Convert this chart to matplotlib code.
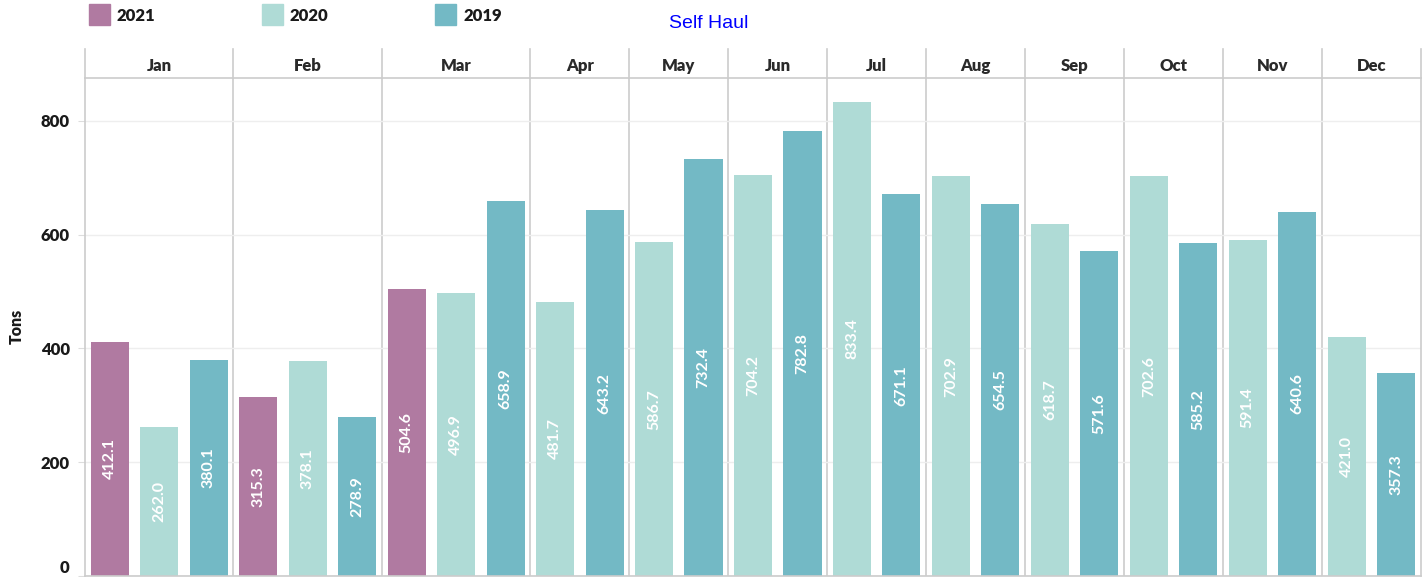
import numpy as np
import matplotlib
matplotlib.use("Agg")
import matplotlib.pyplot as plt
from matplotlib.patches import Rectangle

# data (tons)
months = ['Jan', 'Feb', 'Mar', 'Apr', 'May', 'Jun',
          'Jul', 'Aug', 'Sep', 'Oct', 'Nov', 'Dec']
years = ['2021', '2020', '2019']
v2021 = [412.1, 315.3, 504.6]  # only Jan-Mar
v2020 = [262.0, 378.1, 496.9, 481.7, 586.7, 704.2,
         833.4, 702.9, 618.7, 702.6, 591.4, 421.0]
v2019 = [380.1, 278.9, 658.9, 643.2, 732.4, 782.8,
         671.1, 654.5, 571.6, 585.2, 640.6, 357.3]
yticks = [0, 200, 400, 600, 800]

colors = {'2021': '#B07AA1', '2020': '#AFDBD6', '2019': '#73B9C5'}

W, H = 1427, 577
fig = plt.figure(figsize=(W / 100, H / 100), dpi=100)
plt.rcParams['font.family'] = ['Lato', 'DejaVu Sans']

def fx(px):
    return px / W

def fy(py):
    return 1 - py / H

# build bar list: month by month, year by year
xs, hs, cs, bounds, centers = [], [], [], [], []
pos = 0
for i, m in enumerate(months):
    start = pos
    series = []
    if i < len(v2021):
        series.append(('2021', v2021[i]))
    series.append(('2020', v2020[i]))
    series.append(('2019', v2019[i]))
    for yr, v in series:
        xs.append(pos)
        hs.append(v)
        cs.append(colors[yr])
        pos += 1
    bounds.append(pos - 0.5)
    centers.append((start + pos - 1) / 2)

left, right = 85, 1421
top, bottom = 78, 576
ax = fig.add_axes([fx(left), fy(bottom), fx(right - left), (bottom - top) / H])
ax.bar(xs, hs, width=0.77, color=cs, zorder=2)
ax.set_xlim(-0.5, pos - 0.5)
ymax = 875.6
ax.set_ylim(0, ymax)

for x, h in zip(xs, hs):
    ax.text(x, h / 2, f'{h:.1f}', rotation=90, ha='center', va='center',
            color='white', fontsize=11.5, fontweight='bold', zorder=3)

for b in bounds[:-1]:
    ax.axvline(b, color='#cccccc', lw=1.2, zorder=1)

ax.set_yticks(yticks)
ax.set_yticklabels([str(t) for t in yticks])
ax.yaxis.grid(True, color='#eeeeee', lw=1, zorder=0)
ax.set_xticks([])
ax.tick_params(axis='y', length=5, color='#dddddd', pad=6,
               labelsize=12, labelcolor='#1a1a1a')
for lab in ax.get_yticklabels():
    lab.set_fontweight('heavy')
ax.get_yticklabels()[0].set_verticalalignment('bottom')
ax.spines['top'].set_visible(False)
for s in ['left', 'right', 'bottom']:
    ax.spines[s].set_color('#cccccc')
    ax.spines[s].set_linewidth(1.2)

# header strip with month names
hdr_top = 49
hax = fig.add_axes([fx(left), fy(top), fx(right - left), (top - hdr_top) / H])
hax.set_xlim(-0.5, pos - 0.5)
hax.set_ylim(0, 1)
hax.axis('off')
for b in [-0.5] + bounds:
    hax.plot([b, b], [0, 1], color='#cccccc', lw=1.2, clip_on=False)
hax.plot([-0.5, pos - 0.5], [0, 0], color='#cccccc', lw=1.2, clip_on=False)
for c, m in zip(centers, months):
    hax.text(c, 0.42, m, ha='center', va='center', fontsize=12,
             fontweight='heavy', color='#2a2a2a')

# legend
for yr, sx in zip(years, [89, 262, 435]):
    fig.add_artist(Rectangle((fx(sx), fy(25)), fx(21), 21 / H,
                             transform=fig.transFigure, color=colors[yr]))
    fig.text(fx(sx + 28), fy(16), yr, ha='left', va='center', fontsize=12,
             fontweight='heavy', color='#1a1a1a')

fig.text(fx(709), fy(24), 'Self Haul', ha='center', va='center', fontsize=14,
         color='#0000ff', family=['Liberation Sans', 'DejaVu Sans'])
fig.text(fx(17), fy(326), 'Tons', rotation=90, ha='center', va='center',
         fontsize=11.5, fontweight='heavy', color='#1a1a1a')

fig.savefig('out.png', dpi=100, facecolor='white')
